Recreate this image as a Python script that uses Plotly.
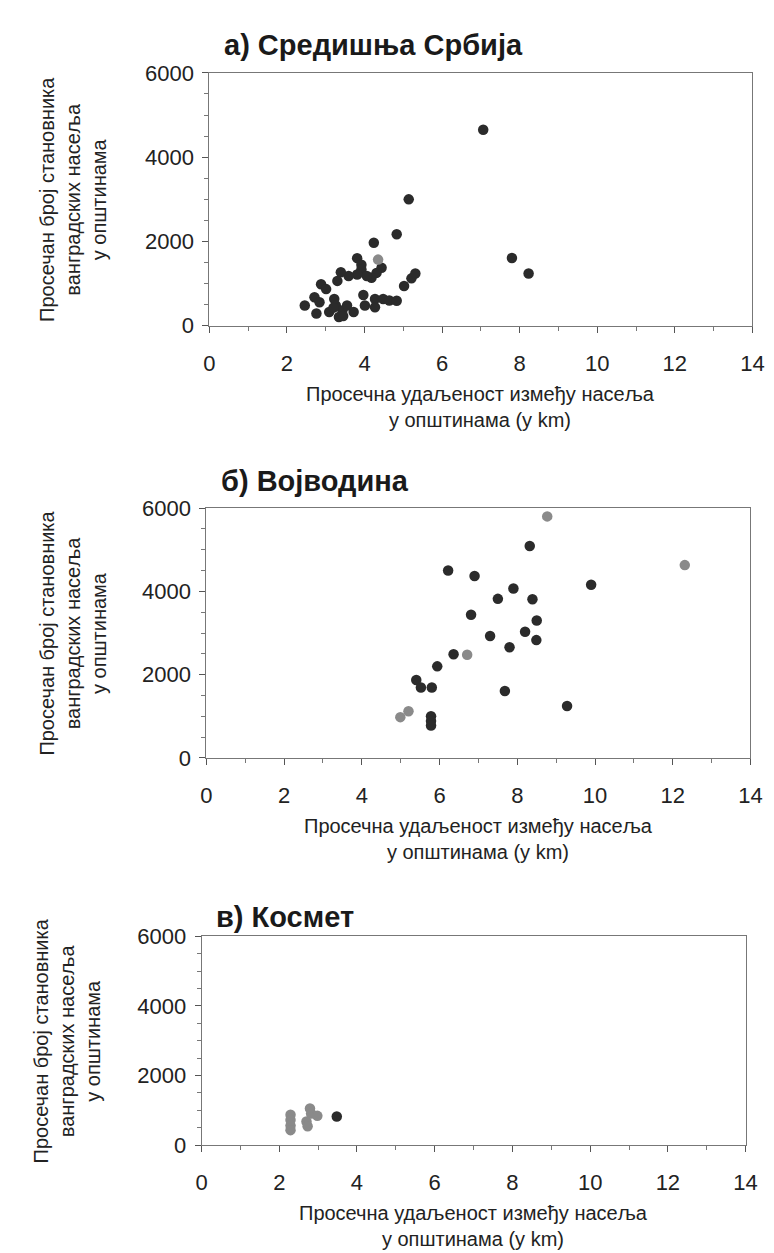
import plotly.graph_objects as go

W, H = 774, 1253

# а) Средишња Србија
x_srbija = [7.06, 5.14, 4.83, 7.80, 8.23, 4.24, 3.81, 3.92, 3.92, 4.44, 4.31, 4.18, 4.06,
            3.81, 3.59, 3.39, 3.30, 2.88, 3.01, 2.71, 2.84, 2.46, 2.76, 3.22, 3.26, 3.43,
            3.34, 3.55, 3.72, 3.97, 4.01, 4.27, 4.27, 4.48, 4.64, 3.09, 5.02, 5.21, 5.31,
            4.83, 3.20, 3.45]
y_srbija = [4650, 3000, 2170, 1610, 1240, 1970, 1605, 1450, 1335, 1375, 1255, 1140, 1180,
            1215, 1180, 1270, 1065, 985, 870, 675, 560, 480, 290, 635, 480, 365,
            210, 480, 325, 730, 480, 635, 440, 635, 600, 325, 945, 1125, 1240,
            595, 430, 230]
x_srbija_gray = [4.35]
y_srbija_gray = [1570]

# б) Војводина
x_vojvodina = [8.32, 6.22, 6.90, 9.90, 7.90, 7.50, 8.39, 6.81, 8.50, 8.20, 7.30, 8.49,
               7.80, 6.36, 5.94, 5.40, 5.52, 5.80, 7.68, 9.28, 5.78, 5.78, 5.78]
y_vojvodina = [5090, 4500, 4370, 4160, 4070, 3820, 3810, 3440, 3300, 3030, 2930, 2830,
               2660, 2490, 2200, 1870, 1690, 1690, 1610, 1250, 1000, 890, 780]
x_vojvodina_gray = [8.77, 12.31, 6.71, 5.20, 4.99]
y_vojvodina_gray = [5800, 4630, 2480, 1120, 980]

# в) Космет
x_kosmet = [3.48]
y_kosmet = [820]
x_kosmet_gray = [2.29, 2.29, 2.29, 2.29, 2.79, 2.82, 2.98, 2.70, 2.73]
y_kosmet_gray = [870, 720, 560, 430, 1055, 910, 840, 680, 540]

titles = ['а) Средишња Србија', 'б) Војводина', 'в) Космет']
x_title = 'Просечна удаљеност између насеља<br>у општинама (у km)'
y_title = 'Просечан број становника<br>ванградских насеља<br>у општинама'

DARK = '#2b2b2b'
GRAY = '#8a8a8a'
FONT = 'Liberation Sans, Arial, sans-serif'

# panel boxes in pixels: left, right, top, bottom
boxes = [(200, 756, 54, 312), (197, 754, 498, 753), (192, 749, 935, 1148)]
title_pos = [(213, 25), (210, 470), (205, 915)]
ytitle_x = [61, 60, 54]

series = [
    (x_srbija, y_srbija, x_srbija_gray, y_srbija_gray),
    (x_vojvodina, y_vojvodina, x_vojvodina_gray, y_vojvodina_gray),
    (x_kosmet, y_kosmet, x_kosmet_gray, y_kosmet_gray),
]

fig = go.Figure()
annotations = []
for i, (xd, yd, xg, yg) in enumerate(series):
    n = '' if i == 0 else str(i + 1)
    fig.add_trace(go.Scatter(x=xd, y=yd, mode='markers', xaxis='x' + n, yaxis='y' + n,
                             marker=dict(color=DARK, size=10.5, line=dict(width=0)), showlegend=False))
    fig.add_trace(go.Scatter(x=xg, y=yg, mode='markers', xaxis='x' + n, yaxis='y' + n,
                             marker=dict(color=GRAY, size=10.5, line=dict(width=0)), showlegend=False))

    l, r, t, b = boxes[i]
    axis_style = dict(showline=True, mirror=True, linecolor='#777', linewidth=1,
                      ticks='outside', ticklen=6, tickcolor='#555', showgrid=False, zeroline=False,
                      tickfont=dict(family=FONT, size=22, color='#222'))
    fig.layout['xaxis' + n] = dict(domain=[l / W, r / W], anchor='y' + n, range=[0, 14],
                                   dtick=2, tick0=0, ticklabelstandoff=12,
                                   minor=dict(dtick=1, ticks='outside', ticklen=4, tickcolor='#777'),
                                   **axis_style)
    fig.layout['yaxis' + n] = dict(domain=[1 - b / H, 1 - t / H], anchor='x' + n, range=[0, 6000],
                                   dtick=2000, tick0=0, ticklabelstandoff=4,
                                   minor=dict(dtick=500, ticks='outside', ticklen=4, tickcolor='#777'),
                                   **axis_style)

    tx, ty = title_pos[i]
    annotations.append(dict(text='<b>' + titles[i] + '</b>', x=tx / W, y=1 - ty / H,
                            xref='paper', yref='paper', xanchor='left', yanchor='middle',
                            showarrow=False, font=dict(family=FONT, size=29, color='#1a1a1a')))
    annotations.append(dict(text=x_title, x=(l + r) / 2 / W, y=1 - (b + 56) / H,
                            xref='paper', yref='paper', xanchor='center', yanchor='top',
                            showarrow=False, font=dict(family=FONT, size=20, color='#222')))
    annotations.append(dict(text=y_title, x=ytitle_x[i] / W, y=1 - (t + b) / 2 / H,
                            xref='paper', yref='paper', xanchor='center', yanchor='middle',
                            textangle=-90, showarrow=False,
                            font=dict(family=FONT, size=20, color='#222')))

fig.update_layout(width=W, height=H, margin=dict(l=0, r=0, t=0, b=0),
                  plot_bgcolor='white', paper_bgcolor='white',
                  annotations=annotations, showlegend=False)

fig.write_html("out.html")
